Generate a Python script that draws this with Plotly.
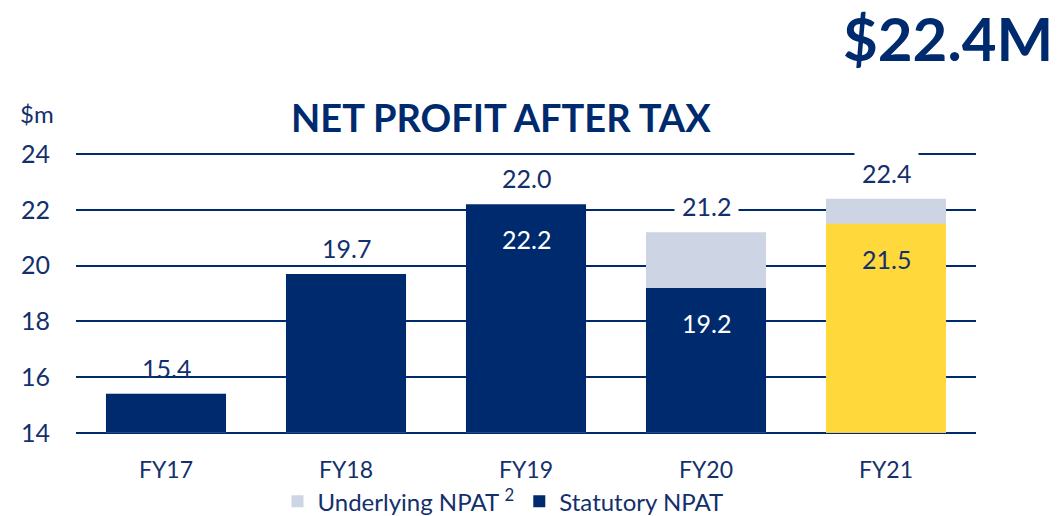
import plotly.graph_objects as go

categories = ["FY17", "FY18", "FY19", "FY20", "FY21"]
underlying = [15.4, 19.7, 22.0, 21.2, 22.4]
statutory = [15.4, 19.7, 22.2, 19.2, 21.5]
top_labels = ["15.4", "19.7", "22.0", "21.2", "22.4"]
inside_labels = [None, None, "22.2", "19.2", "21.5"]
y_ticks = [14, 16, 18, 20, 22, 24]
BASE = 14

NAVY = "#002A6E"
TEXT = "#13306C"
GREY = "#CDD4E3"
YELLOW = "#FFD83C"
FONT = "Lato"

stat_colors = [NAVY, NAVY, NAVY, NAVY, YELLOW]

OFF = 8  # page body margin
W, H = 1063 - OFF, 516 - OFF
Y_LO, Y_HI = 13.92, 24.08
unit = (433 - 154) / 10.0
top_px = 154 - (Y_HI - 24) * unit
bot_px = 433 + (14 - Y_LO) * unit
pl = 76 - OFF
pr = 1063 - 976
pt = top_px - OFF
pb = H - (bot_px - OFF)
pw, ph = W - pl - pr, H - pt - pb


def px(xp):
    return (xp - OFF - pl) / pw


def py(yp):
    return (H - pb - (yp - OFF)) / ph


fig = go.Figure()
fig.add_trace(go.Bar(x=categories, y=[v - BASE for v in underlying], base=BASE,
                     name="Underlying NPAT <sup>2</sup>",
                     marker=dict(color=GREY, line=dict(width=0)), hoverinfo="skip"))
fig.add_trace(go.Bar(x=categories, y=[v - BASE for v in statutory], base=BASE,
                     name="Statutory NPAT",
                     marker=dict(color=stat_colors, line=dict(width=0)), hoverinfo="skip"))

for i, c in enumerate(categories):
    top = max(underlying[i], statutory[i])
    fig.add_annotation(x=c, y=top, xref="x", yref="y", text=top_labels[i],
                       showarrow=False, yanchor="bottom", yshift=3,
                       font=dict(family=FONT, size=25, color=TEXT),
                       bgcolor="white" if i >= 2 else "rgba(0,0,0,0)", borderpad=7)
    if inside_labels[i]:
        fig.add_annotation(x=c, y=statutory[i], xref="x", yref="y", text=inside_labels[i],
                           showarrow=False, yanchor="top", yshift=-18,
                           font=dict(family=FONT, size=25,
                                     color=TEXT if i == 4 else "white"))

fig.add_annotation(x=px(501), y=py(117), xref="paper", yref="paper",
                   text="<b>NET PROFIT AFTER TAX</b>", showarrow=False,
                   font=dict(family=FONT, size=38, color=NAVY, weight=900),
                   xanchor="center", yanchor="middle")
fig.add_annotation(x=px(1055), y=py(38), xref="paper", yref="paper",
                   text="<b>$22.4M</b>", showarrow=False,
                   font=dict(family=FONT, size=60, color=NAVY, weight=900),
                   xanchor="right", yanchor="middle")
fig.add_annotation(x=px(37), y=py(113), xref="paper", yref="paper",
                   text="$m", showarrow=False,
                   font=dict(family=FONT, size=24, color=TEXT),
                   xanchor="center", yanchor="middle")

fig.update_layout(
    width=W, height=H,
    margin=dict(l=pl, r=pr, t=pt, b=pb, pad=0, autoexpand=False),
    paper_bgcolor="white", plot_bgcolor="white",
    barmode="overlay", bargap=0.333,
    showlegend=True,
    legend=dict(orientation="h", x=px(503), xanchor="center", y=py(502), yanchor="middle",
                font=dict(family=FONT, size=24, color=TEXT), traceorder="normal",
                itemwidth=30, tracegroupgap=0, bgcolor="rgba(0,0,0,0)"),
    xaxis=dict(showgrid=False, showline=False, ticks="outside", ticklen=14,
               tickcolor="rgba(0,0,0,0)", automargin=False,
               tickfont=dict(family=FONT, size=23, color=TEXT), fixedrange=True),
    yaxis=dict(range=[Y_LO, Y_HI], tickvals=y_ticks, showgrid=True, gridcolor=NAVY, gridwidth=2,
               zeroline=False, showline=False, ticks="outside", ticklen=20,
               tickcolor="rgba(0,0,0,0)", automargin=False,
               tickfont=dict(family=FONT, size=25, color=TEXT)),
)

fig.write_html("out.html")
